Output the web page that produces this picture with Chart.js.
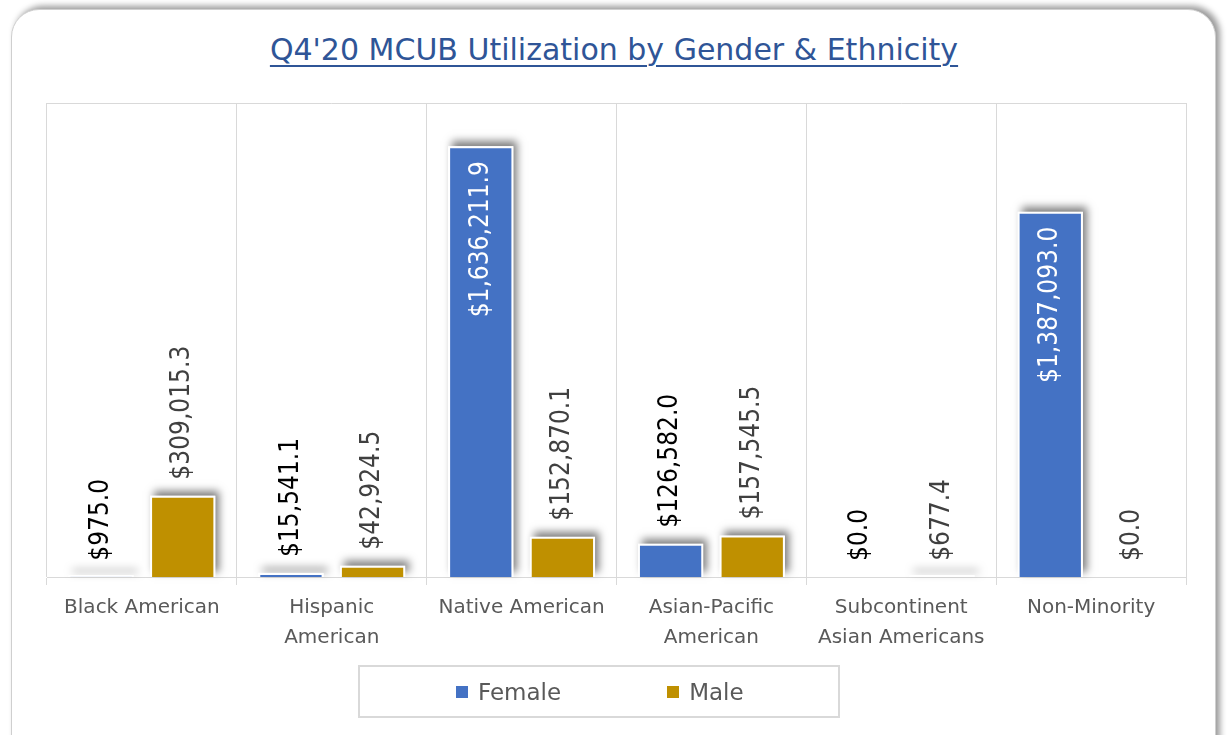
<!DOCTYPE html>
<html>
<head>
<meta charset="utf-8">
<script src="https://cdn.jsdelivr.net/npm/chart.js@4.4.1/dist/chart.umd.min.js"></script>
<style>
  html, body { margin: 0; padding: 0; background: #ffffff; width: 1228px; height: 735px; overflow: hidden; }
  #card { position: absolute; left: 11px; top: 9px; width: 1203px; height: 780px; border: 1px solid #cfcfcf; border-radius: 28px; background: #fff; box-shadow: 4px -3px 6px rgba(0,0,0,0.4); }
  #title { position: absolute; left: 0; width: 1228px; top: 33px; text-align: center; font-family: "DejaVu Sans"; font-size: 30px; line-height: 34px; color: #2F5597; text-decoration: underline; text-decoration-thickness: 2px; text-underline-offset: 5px; }
  #chart { position: absolute; left: 0; top: 0; }
  #legend { position: absolute; left: 358px; top: 665px; height: 49px; border: 2px solid #d9d9d9; display: flex; align-items: center; padding-left: 96px; box-sizing: content-box; width: 382px; }
  .item { display: flex; align-items: center; font-family: "DejaVu Sans"; font-size: 23px; color: #595959; }
  .sw { width: 12px; height: 12px; margin-right: 10px; }
</style>
</head>
<body>
<div id="card"></div>
<div id="title">Q4'20 MCUB Utilization by Gender &amp; Ethnicity</div>
<canvas id="chart" width="1228" height="735"></canvas>
<div id="legend"></div>
<script>
const categories = [
  ['Black American'],
  ['Hispanic', 'American'],
  ['Native American'],
  ['Asian-Pacific', 'American'],
  ['Subcontinent', 'Asian Americans'],
  ['Non-Minority']
];
const seriesNames = ['Female', 'Male'];
const femaleValues = [975.0, 15541.1, 1636211.9, 126582.0, 0.0, 1387093.0];
const maleValues = [309015.3, 42924.5, 152870.1, 157545.5, 677.4, 0.0];
const yAxisMax = 1800000;

const seriesColors = ['#4472C4', '#BF9000'];
const outsideLabelColors = ['#000000', '#404040'];

function fmt(v) {
  return '$' + v.toLocaleString('en-US', { minimumFractionDigits: 1, maximumFractionDigits: 1 });
}

const barDecor = {
  id: 'barDecor',
  beforeDatasetsDraw(chart) {
    const ctx = chart.ctx;
    ctx.save();
    ctx.shadowColor = 'rgba(0,0,0,0.5)';
    ctx.shadowBlur = 8;
    ctx.shadowOffsetX = 4;
    ctx.shadowOffsetY = -5;
    ctx.fillStyle = '#ffffff';
    chart.data.datasets.forEach((ds, di) => {
      chart.getDatasetMeta(di).data.forEach((bar, i) => {
        if (!ds.data[i]) return;
        const p = bar.getProps(['x', 'y', 'base', 'width'], true);
        const h = Math.max(p.base - p.y, 2);
        ctx.fillRect(p.x - p.width / 2, p.base - h, p.width, h);
      });
    });
    ctx.restore();
  },
  afterDatasetsDraw(chart) {
    const ctx = chart.ctx;
    const area = chart.chartArea;
    ctx.save();
    ctx.strokeStyle = '#d9d9d9';
    ctx.lineWidth = 1;
    ctx.beginPath();
    ctx.moveTo(area.left, area.top + 0.5);
    ctx.lineTo(area.right, area.top + 0.5);
    ctx.stroke();
    ctx.restore();
    const gap = 16, inGap = 15;
    chart.data.datasets.forEach((ds, di) => {
      const meta = chart.getDatasetMeta(di);
      meta.data.forEach((bar, i) => {
        const text = fmt(ds.data[i]);
        ctx.save();
        ctx.font = '26px "DejaVu Sans Condensed"';
        const w = ctx.measureText(text).width;
        ctx.translate(bar.x, bar.y);
        ctx.rotate(-Math.PI / 2);
        ctx.textBaseline = 'middle';
        if (bar.y - gap - w < area.top) {
          ctx.textAlign = 'right';
          ctx.fillStyle = '#ffffff';
          ctx.fillText(text, -inGap, 0);
        } else {
          ctx.textAlign = 'left';
          ctx.fillStyle = outsideLabelColors[di];
          ctx.fillText(text, gap, 0);
        }
        ctx.restore();
      });
    });
  }
};

const chart = new Chart(document.getElementById('chart'), {
  type: 'bar',
  data: {
    labels: categories,
    datasets: [
      { label: seriesNames[0], data: femaleValues, backgroundColor: seriesColors[0], borderColor: '#ffffff', borderWidth: 2, borderSkipped: 'bottom' },
      { label: seriesNames[1], data: maleValues, backgroundColor: seriesColors[1], borderColor: '#ffffff', borderWidth: 2, borderSkipped: 'bottom' }
    ]
  },
  options: {
    responsive: false,
    animation: false,
    layout: { padding: { left: 47, right: 42, top: 103, bottom: 70 } },
    datasets: { bar: { categoryPercentage: 0.86, barPercentage: 0.8 } },
    plugins: { legend: { display: false }, title: { display: false }, tooltip: { enabled: false } },
    scales: {
      y: { display: false, min: 0, max: yAxisMax },
      x: {
        grid: { color: '#d9d9d9', offset: true, tickLength: 8, lineWidth: 1 },
        border: { color: '#d9d9d9', width: 1 },
        ticks: { color: '#595959', font: { family: 'DejaVu Sans', size: 20, lineHeight: 1.5 }, padding: 8, maxRotation: 0, autoSkip: false },
        afterFit(scale) { scale.height = 88; }
      }
    }
  },
  plugins: [barDecor]
});

const legend = document.getElementById('legend');
chart.data.datasets.forEach((ds, i) => {
  const item = document.createElement('div');
  item.className = 'item';
  if (i > 0) item.style.marginLeft = '106px';
  const sw = document.createElement('span');
  sw.className = 'sw';
  sw.style.background = ds.backgroundColor;
  const t = document.createElement('span');
  t.textContent = ds.label;
  item.appendChild(sw);
  item.appendChild(t);
  legend.appendChild(item);
});
</script>
</body>
</html>
